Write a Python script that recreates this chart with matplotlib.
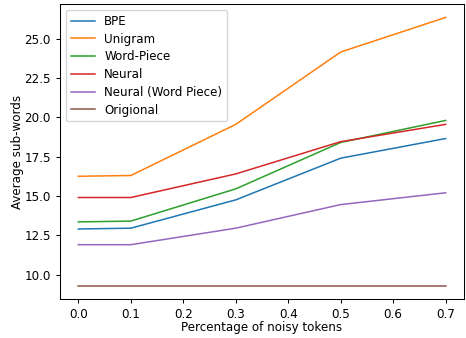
import matplotlib
matplotlib.use("Agg")
import matplotlib.pyplot as plt

x = [0.0, 0.1, 0.3, 0.5, 0.7]
bpe = [12.9, 12.95, 14.75, 17.4, 18.65]
unigram = [16.25, 16.3, 19.55, 24.15, 26.35]
wordpiece = [13.35, 13.4, 15.45, 18.4, 19.8]
neural = [14.9, 14.9, 16.4, 18.45, 19.55]
neural_wp = [11.9, 11.9, 12.95, 14.45, 15.2]
original = [9.3, 9.3, 9.3, 9.3, 9.3]

series = [("BPE", bpe), ("Unigram", unigram), ("Word-Piece", wordpiece),
          ("Neural", neural), ("Neural (Word Piece)", neural_wp), ("Origional", original)]

plt.rcParams['font.size'] = 8.6
plt.rcParams['axes.linewidth'] = 0.75
plt.rcParams['xtick.major.width'] = 0.75
plt.rcParams['ytick.major.width'] = 0.75
plt.rcParams['xtick.major.size'] = 3
plt.rcParams['ytick.major.size'] = 3

fig, ax = plt.subplots(figsize=(4.66, 3.38), dpi=100)
for name, vals in series:
    ax.plot(x, vals, label=name, linewidth=1.1)
ax.set_xlabel("Percentage of noisy tokens", labelpad=0)
ax.set_ylabel("Average sub-words", labelpad=0)
ax.legend(loc="upper left", labelspacing=0.4)
fig.subplots_adjust(left=60/466, right=464/466, bottom=1 - 299/338, top=1 - 4/338)
fig.savefig("out.png")
